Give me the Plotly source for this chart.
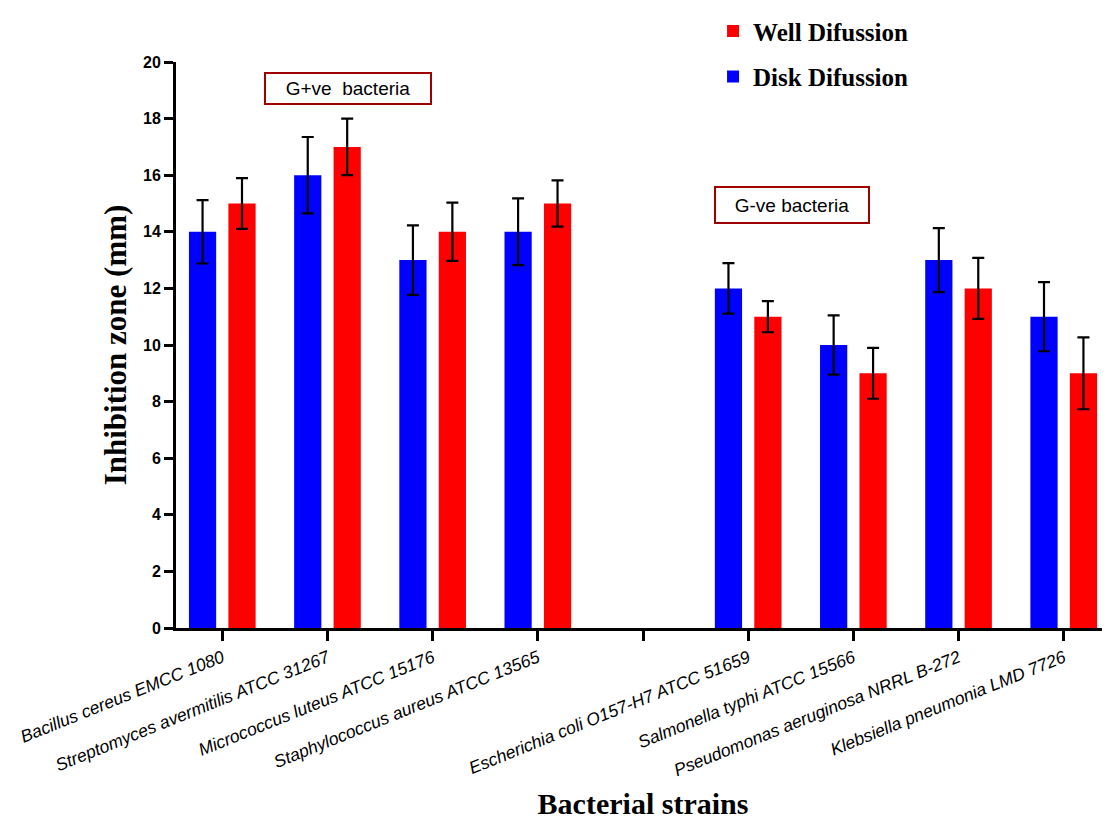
import plotly.graph_objects as go

strains = [
    "Bacillus cereus EMCC 1080",
    "Streptomyces avermitilis ATCC 31267",
    "Micrococcus luteus ATCC 15176",
    "Staphylococcus aureus ATCC 13565",
    "",
    "Escherichia coli O157-H7 ATCC 51659",
    "Salmonella typhi ATCC 15566",
    "Pseudomonas aeruginosa NRRL B-272",
    "Klebsiella pneumonia LMD 7726",
]
positions = [0, 1, 2, 3, 5, 6, 7, 8]
bar_strains = [s for s in strains if s]

disk_values = [14, 16, 13, 14, 12, 10, 13, 11]
disk_errors = [1.12, 1.35, 1.23, 1.18, 0.89, 1.05, 1.13, 1.22]
well_values = [15, 17, 14, 15, 11, 9, 12, 9]
well_errors = [0.9, 1.0, 1.03, 0.82, 0.55, 0.9, 1.08, 1.27]

y_ticks = [0, 2, 4, 6, 8, 10, 12, 14, 16, 18, 20]

fig = go.Figure()
fig.add_trace(go.Bar(
    name="Disk Difussion", x=positions, y=disk_values,
    marker=dict(color="#0000FF", line=dict(width=0)),
    error_y=dict(type="data", array=disk_errors, color="black", thickness=2.2, width=6),
    legendgroup="disk", legendrank=2, hovertext=bar_strains,
))
fig.add_trace(go.Bar(
    name="Well Difussion", x=positions, y=well_values,
    marker=dict(color="#FF0000", line=dict(width=0)),
    error_y=dict(type="data", array=well_errors, color="black", thickness=2.2, width=6),
    legendgroup="well", legendrank=1, hovertext=bar_strains,
))

fig.update_layout(
    width=1102, height=815,
    paper_bgcolor="white", plot_bgcolor="white",
    margin=dict(l=168, r=0, t=54, b=195, autoexpand=False),
    barmode="group", bargap=0.25, bargroupgap=0.31,
    showlegend=True,
    legend=dict(
        x=0.575, y=1.095, xanchor="left", yanchor="top",
        traceorder="grouped", tracegroupgap=10,
        font=dict(family="Liberation Serif, Times New Roman, serif", size=25, color="black", weight="bold"),
        bgcolor="rgba(0,0,0,0)",
    ),
    xaxis=dict(
        range=[-0.44, 8.44],
        tickmode="array", tickvals=list(range(len(strains))), ticktext=strains,
        tickangle=-22,
        tickfont=dict(family="Liberation Sans, Arial, sans-serif", size=17.5, color="black", style="italic"),
        ticks="outside", ticklen=10, tickwidth=3, tickcolor="black",
        showline=True, linecolor="black", linewidth=3,
        showgrid=False, zeroline=False,
        title=dict(text="Bacterial strains", standoff=14,
                   font=dict(family="Liberation Serif, Times New Roman, serif", size=30, color="black", weight="bold")),
    ),
    yaxis=dict(
        range=[0, 20],
        tickmode="array", tickvals=y_ticks,
        tickfont=dict(family="Liberation Sans, Arial, sans-serif", size=16, color="black", weight="bold"),
        ticks="outside", ticklen=9, tickwidth=3, tickcolor="black",
        showline=True, linecolor="black", linewidth=3,
        showgrid=False, zeroline=False,
        title=dict(text="Inhibition zone (mm)", standoff=8,
                   font=dict(family="Liberation Serif, Times New Roman, serif", size=31, color="black", weight="bold")),
    ),
    annotations=[
        dict(x=1.195, y=19.08, xref="x", yref="y", text="G+ve&nbsp; bacteria", showarrow=False,
             font=dict(family="Liberation Sans, Arial, sans-serif", size=19, color="black"),
             bordercolor="#A00000", borderwidth=2, width=162, height=27, bgcolor="white"),
        dict(x=5.414, y=14.95, xref="x", yref="y", text="G-ve bacteria", showarrow=False,
             font=dict(family="Liberation Sans, Arial, sans-serif", size=19, color="black"),
             bordercolor="#A00000", borderwidth=2, width=150, height=32, bgcolor="white"),
    ],
)

fig.write_html("out.html")
